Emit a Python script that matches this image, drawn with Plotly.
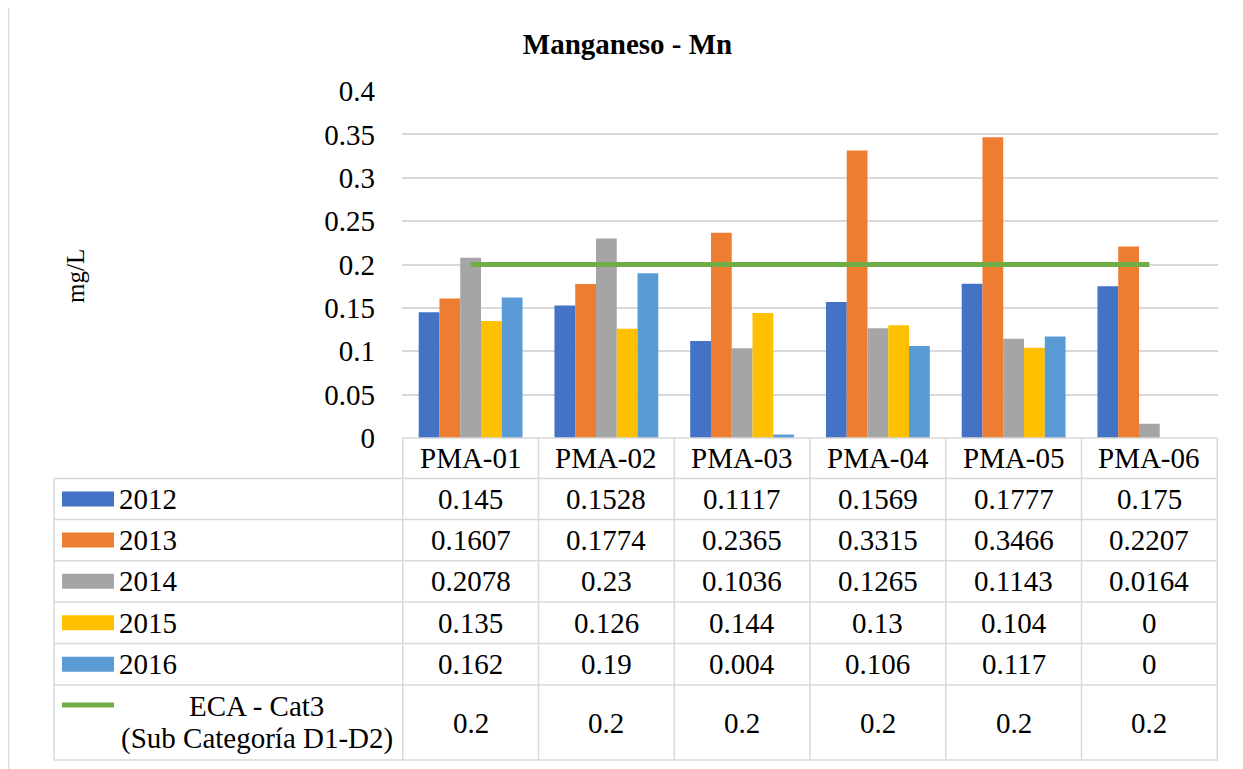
import plotly.graph_objects as go

# ---------------- data ----------------
categories = ["PMA-01", "PMA-02", "PMA-03", "PMA-04", "PMA-05", "PMA-06"]
series_names = ["2012", "2013", "2014", "2015", "2016"]
v2012 = [0.145, 0.1528, 0.1117, 0.1569, 0.1777, 0.175]
v2013 = [0.1607, 0.1774, 0.2365, 0.3315, 0.3466, 0.2207]
v2014 = [0.2078, 0.23, 0.1036, 0.1265, 0.1143, 0.0164]
v2015 = [0.135, 0.126, 0.144, 0.13, 0.104, 0]
v2016 = [0.162, 0.19, 0.004, 0.106, 0.117, 0]
eca_name_lines = ["ECA - Cat3", "(Sub Categoría D1-D2)"]
eca_values = [0.2, 0.2, 0.2, 0.2, 0.2, 0.2]
y_ticks = [0, 0.05, 0.1, 0.15, 0.2, 0.25, 0.3, 0.35, 0.4]
title_text = "Manganeso - Mn"
y_title = "mg/L"

bar_colors = ["#4472C4", "#ED7D31", "#A5A5A5", "#FFC000", "#5B9BD5"]
eca_color = "#70AD47"
grid_color = "#D9D9D9"
FONT = "Liberation Serif, Times New Roman, serif"
FS = 29

# ---------------- layout geometry (screen pixels) ----------------
W, H = 1243, 769
OFF = 8  # page body margin
PL, PR, PT, PB = 402, 1218, 91, 438  # plot area on screen
pw, ph = PR - PL, PB - PT


def px2x(px):
    return (px - PL) / pw


def px2y(py):
    return (PB - py) / ph


eca_name = " ".join(eca_name_lines)

fig = go.Figure()
all_series = [v2012, v2013, v2014, v2015, v2016]
for name, vals, col in zip(series_names, all_series, bar_colors):
    fig.add_trace(go.Bar(x=categories, y=vals, name=name, marker_color=col,
                         marker_line_width=0))
fig.add_trace(go.Scatter(x=categories, y=eca_values, name=eca_name, mode="lines",
                         line=dict(color=eca_color, width=5)))

shapes = []
annotations = []

# table row boundaries (screen y)
row_lines = [PB, 478.5, 519.5, 560.7, 602, 643.5, 685, 760]
TL = 54  # table left

line_style = dict(color=grid_color, width=1.5)
for i, yy in enumerate(row_lines):
    x0 = PL if i == 0 else TL
    shapes.append(dict(type="line", xref="paper", yref="paper",
                       x0=px2x(x0), x1=1.0, y0=px2y(yy), y1=px2y(yy), line=line_style))
shapes.append(dict(type="line", xref="paper", yref="paper", x0=px2x(TL), x1=px2x(TL),
                   y0=px2y(row_lines[1]), y1=px2y(row_lines[-1]), line=line_style))
for k in range(len(categories) + 1):
    shapes.append(dict(type="line", xref="x", yref="paper", x0=k - 0.5, x1=k - 0.5,
                       y0=px2y(PB), y1=px2y(row_lines[-1]), line=line_style))

txt_font = dict(family=FONT, size=FS, color="black")

# header row: categories
for c in categories:
    annotations.append(dict(x=c, xref="x", y=px2y((row_lines[0] + row_lines[1]) / 2),
                            yref="paper", text=c, showarrow=False,
                            xanchor="center", yanchor="middle", font=txt_font))

# series rows
row_names = series_names + [eca_name]
row_values = all_series + [eca_values]
for r, (nm, vals) in enumerate(zip(row_names, row_values)):
    yc = (row_lines[r + 1] + row_lines[r + 2]) / 2
    for c, v in zip(categories, vals):
        annotations.append(dict(x=c, xref="x", y=px2y(yc), yref="paper",
                                text=f"{v:g}", showarrow=False,
                                xanchor="center", yanchor="middle", font=txt_font))
    if r < len(series_names):
        shapes.append(dict(type="rect", xref="paper", yref="paper",
                           x0=px2x(62), x1=px2x(114), y0=px2y(yc - 7.5), y1=px2y(yc + 7.5),
                           fillcolor=bar_colors[r], line=dict(width=0)))
        annotations.append(dict(x=px2x(117), xref="paper", y=px2y(yc), yref="paper",
                                text=nm, showarrow=False, xanchor="left",
                                yanchor="middle", font=txt_font))
    else:
        shapes.append(dict(type="line", xref="paper", yref="paper",
                           x0=px2x(62), x1=px2x(114), y0=px2y(705), y1=px2y(705),
                           line=dict(color=eca_color, width=5)))
        for ln, ly in zip(eca_name_lines, [706, 738]):
            annotations.append(dict(x=px2x(256.5), xref="paper", y=px2y(ly), yref="paper",
                                    text=ln, showarrow=False, xanchor="center",
                                    yanchor="middle", font=txt_font))

# y-axis title
annotations.append(dict(x=px2x(75), xref="paper", y=px2y(276), yref="paper",
                        text=y_title, showarrow=False, textangle=-90,
                        xanchor="center", yanchor="middle",
                        font=dict(family=FONT, size=FS - 4, color="black")))

# outer chart border (left & top visible)
shapes.append(dict(type="rect", xref="paper", yref="paper",
                   x0=px2x(8.5), x1=px2x(W + 20), y0=px2y(4.5), y1=px2y(H + 20),
                   line=dict(color=grid_color, width=1.5), layer="below"))

fig.update_layout(
    width=W, height=H, autosize=False,
    margin=dict(l=PL - OFF, r=W - (PR - OFF), t=PT - OFF, b=H - (PB - OFF), pad=0),
    paper_bgcolor="white", plot_bgcolor="white",
    showlegend=False,
    barmode="group", bargap=0.235, bargroupgap=0,
    title=dict(text=f"<b>{title_text}</b>", x=(627.5 - OFF) / W, xanchor="center",
               y=1 - (44 - OFF) / H, yanchor="middle",
               font=dict(family=FONT, size=FS, color="black")),
    xaxis=dict(showticklabels=False, showgrid=False, zeroline=False, showline=False,
               ticks=""),
    yaxis=dict(range=[0, 0.4], tickvals=y_ticks, ticktext=[f"{t:g}" for t in y_ticks],
               showgrid=True, gridcolor=grid_color, gridwidth=1.5, zeroline=False,
               showline=False, ticks="", ticklabelstandoff=26,
               tickfont=txt_font),
    shapes=shapes, annotations=annotations,
)

fig.write_html("out.html")
